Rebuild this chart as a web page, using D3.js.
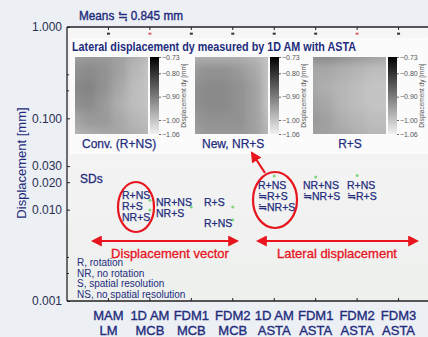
<!DOCTYPE html>
<html>
<head>
<meta charset="utf-8">
<script src="https://cdn.jsdelivr.net/npm/d3@7/dist/d3.min.js"></script>
<style>
  html, body { margin: 0; padding: 0; background: #eceff4; }
  svg { display: block; }
  text { font-family: "Liberation Sans", Arial, sans-serif; }
</style>
</head>
<body>
<svg id="chart" width="428" height="337"></svg>
<script>
// ---- data ----
const categories = [["MAM", "LM"], ["1D AM", "MCB"], ["FDM1", "MCB"], ["FDM2", "MCB"],
                    ["1D AM", "ASTA"], ["FDM1", "ASTA"], ["FDM2", "ASTA"], ["FDM3", "ASTA"]];
const meanValues = [0.845, 0.845, 0.845, 0.845, 0.845, 0.845, 0.845, 0.845];
const meanHighlighted = [false, true, false, false, false, false, true, false];
const yTickValues = [1.0, 0.1, 0.03, 0.02, 0.01, 0.001];
const yMinorTicks = [0.3, 0.2, 0.003, 0.002];

// standard deviations (category index, value)
const sdCategory = [1, 1, 2, 3, 3, 4, 5, 6];
const sdValues = [0.0127, 0.0099, 0.0107, 0.0107, 0.0077, 0.0233, 0.0228, 0.0236];

// lateral displacement dy maps [mm], rows top to bottom
const mapConv = [
  [-0.95, -0.94, -0.94, -0.95, -0.97, -0.99],
  [-0.93, -0.92, -0.93, -0.95, -0.98, -1.00],
  [-0.92, -0.91, -0.93, -0.96, -0.99, -1.00],
  [-0.93, -0.92, -0.94, -0.97, -0.99, -1.00],
  [-0.96, -0.94, -0.94, -0.96, -0.98, -0.99],
  [-0.98, -0.97, -0.96, -0.96, -0.97, -0.98]
];
const mapNew = [
  [-0.97, -0.97, -0.97, -0.97, -0.98, -1.00],
  [-0.94, -0.93, -0.93, -0.94, -0.96, -1.00],
  [-0.93, -0.92, -0.92, -0.93, -0.95, -1.00],
  [-0.93, -0.92, -0.92, -0.93, -0.95, -1.00],
  [-0.94, -0.93, -0.93, -0.93, -0.95, -0.99],
  [-0.95, -0.94, -0.94, -0.94, -0.95, -0.98]
];
const mapRS = [
  [-0.93, -0.92, -0.93, -0.94, -0.95, -0.96],
  [-0.96, -0.96, -0.97, -0.98, -0.99, -0.99],
  [-0.96, -0.97, -0.98, -0.99, -1.00, -1.00],
  [-0.95, -0.96, -0.98, -0.99, -1.00, -1.00],
  [-0.94, -0.95, -0.97, -0.98, -0.99, -0.99],
  [-0.95, -0.95, -0.96, -0.97, -0.98, -0.98]
];
const mapCaptions = ["Conv. (R+NS)", "New, NR+S", "R+S"];
const colorTicks = [-0.73, -0.80, -0.90, -1.00, -1.06];

const legendLines = ["R, rotation", "NR, no rotation", "S, spatial resolution", "NS, no spatial resolution"];

// ---- layout ----
const svg = d3.select("#chart");
const navy = "#232c7c";
const red = "#e8141e";
const plot = { left: 67, top: 27, right: 440, bottom: 301 };

const x = d3.scalePoint().domain(d3.range(categories.length))
  .range([plot.left, plot.right]).padding(1);
const y = d3.scaleLog().domain([0.001, 1]).range([plot.bottom, plot.top]);

const defs = svg.append("defs");
const bgGrad = defs.append("linearGradient").attr("id", "plotBg")
  .attr("x1", 0).attr("y1", 0).attr("x2", 0).attr("y2", 1);
bgGrad.append("stop").attr("offset", 0).attr("stop-color", "#f6f6f6");
bgGrad.append("stop").attr("offset", 1).attr("stop-color", "#eef0ee");

// page background and plot area
svg.append("rect").attr("width", 428).attr("height", 337).attr("fill", "#eceff4");
svg.append("rect").attr("x", plot.left).attr("y", plot.top)
  .attr("width", plot.right - plot.left).attr("height", plot.bottom - plot.top)
  .attr("fill", "url(#plotBg)");

// inset panel with the dy maps
svg.append("rect").attr("x", 70).attr("y", 38).attr("width", 360).attr("height", 116)
  .attr("fill", "#fbfbfb");

svg.append("text").attr("x", 72).attr("y", 51)
  .attr("font-size", 12).attr("font-weight", "bold").attr("fill", navy)
  .attr("textLength", 284).attr("lengthAdjust", "spacingAndGlyphs")
  .text("Lateral displacement dy measured by 1D AM with ASTA");

const color = d3.scaleLinear().domain([-1.06, -0.73]).range(["#f0f0f0", "#000000"])
  .interpolate(d3.interpolateRgb);

defs.append("filter").attr("id", "smooth")
  .attr("x", "-20%").attr("y", "-20%").attr("width", "140%").attr("height", "140%")
  .append("feGaussianBlur").attr("stdDeviation", 4);

const maps = [mapConv, mapNew, mapRS];
const mapX = [75, 195, 313];
const mapTop = 57, mapW = 73, mapH = 77;
const cScale = d3.scaleLinear().domain([-0.73, -1.06]).range([mapTop, mapTop + mapH]);

maps.forEach((grid, k) => {
  const mx = mapX[k];
  const cp = defs.append("clipPath").attr("id", "clipMap" + k);
  cp.append("rect").attr("x", mx).attr("y", mapTop).attr("width", mapW).attr("height", mapH);

  const cols = d3.scaleBand().domain(d3.range(grid[0].length)).range([mx - 10, mx + mapW + 10]);
  const rows = d3.scaleBand().domain(d3.range(grid.length)).range([mapTop - 10, mapTop + mapH + 10]);
  const outer = svg.append("g").attr("clip-path", `url(#clipMap${k})`);
  const inner = outer.append("g").attr("filter", "url(#smooth)");
  grid.forEach((row, r) => {
    inner.selectAll(null).data(row).enter().append("rect")
      .attr("x", (d, c) => cols(c)).attr("y", rows(r))
      .attr("width", cols.bandwidth() + 0.5).attr("height", rows.bandwidth() + 0.5)
      .attr("fill", d => color(d));
  });

  // colour bar
  const cbx = mx + mapW + 2, cbw = 9;
  const gid = "cb" + k;
  const g = defs.append("linearGradient").attr("id", gid)
    .attr("x1", 0).attr("y1", 0).attr("x2", 0).attr("y2", 1);
  d3.range(0, 1.0001, 0.1).forEach(t => {
    g.append("stop").attr("offset", t).attr("stop-color", color(-0.73 - t * 0.33));
  });
  svg.append("rect").attr("x", cbx).attr("y", mapTop).attr("width", cbw).attr("height", mapH)
    .attr("fill", `url(#${gid})`);
  const cAxis = svg.append("g").attr("transform", `translate(${cbx + cbw},0)`)
    .call(d3.axisRight(cScale).tickValues(colorTicks).tickSize(2).tickFormat(d => {
      const s = d3.format(".2f")(d);
      return s.replace("-", "\u2212");
    }));
  cAxis.select(".domain").remove();
  cAxis.selectAll("line").attr("stroke", "#666");
  cAxis.selectAll("text").attr("font-size", 7).attr("fill", "#555").attr("x", 3)
    .attr("font-family", "'Liberation Sans', Arial, sans-serif");
  svg.append("text")
    .attr("transform", `translate(${cbx + cbw + 27},${mapTop + mapH / 2}) rotate(-90)`)
    .attr("text-anchor", "middle").attr("font-size", 6.5).attr("fill", "#555")
    .text("Displacement dy [mm]");

  svg.append("text").attr("x", k === 2 ? mx + 37 : mx + 7).attr("y", 148)
    .attr("text-anchor", k === 2 ? "middle" : "start")
    .attr("font-size", 12).attr("fill", navy)
    .attr("stroke", navy).attr("stroke-width", 0.25).text(mapCaptions[k]);
});

// ---- axes ----
const yAxis = svg.append("g").attr("transform", `translate(${plot.left},0)`)
  .call(d3.axisLeft(y).tickValues(yTickValues).tickSize(-3).tickPadding(5)
    .tickFormat(d3.format(".3f")));
yAxis.select(".domain").remove();
yAxis.selectAll("text").attr("font-size", 12).attr("fill", "#2a3050")
  .attr("font-family", "'Liberation Sans', Arial, sans-serif");
yAxis.selectAll("line").attr("stroke", "#222");
svg.append("g").selectAll("line").data(yMinorTicks).enter().append("line")
  .attr("x1", plot.left).attr("x2", plot.left + 2)
  .attr("y1", d => y(d)).attr("y2", d => y(d)).attr("stroke", "#222");

const frame = svg.append("g").attr("stroke", "#222").attr("stroke-width", 1.3);
frame.append("line").attr("x1", plot.left).attr("x2", plot.left)
  .attr("y1", plot.top).attr("y2", plot.bottom);
frame.append("line").attr("x1", plot.left).attr("x2", plot.right)
  .attr("y1", plot.top).attr("y2", plot.top);
frame.append("line").attr("x1", plot.left).attr("x2", plot.right)
  .attr("y1", plot.bottom).attr("y2", plot.bottom);

// category ticks on top and bottom
svg.append("g").selectAll("line").data(categories).enter().append("line")
  .attr("x1", (d, i) => x(i)).attr("x2", (d, i) => x(i))
  .attr("y1", plot.bottom).attr("y2", plot.bottom - 3).attr("stroke", "#222");
svg.append("g").selectAll("line").data(categories).enter().append("line")
  .attr("x1", (d, i) => x(i)).attr("x2", (d, i) => x(i))
  .attr("y1", plot.top).attr("y2", plot.top + 3).attr("stroke", "#222");

// category labels
const catLabels = svg.append("g");
categories.forEach((c, i) => {
  c.forEach((line, j) => {
    catLabels.append("text").attr("x", x(i)).attr("y", 320 + j * 15)
      .attr("text-anchor", "middle").attr("font-size", 13).attr("fill", navy)
      .attr("stroke", navy).attr("stroke-width", 0.35)
      .text(line);
  });
});

svg.append("text")
  .attr("transform", "translate(26,163) rotate(-90)")
  .attr("text-anchor", "middle").attr("font-size", 13).attr("fill", navy)
  .text("Displacement [mm]");

svg.append("text").attr("x", 79).attr("y", 20)
  .attr("font-size", 13).attr("fill", navy).attr("stroke", navy).attr("stroke-width", 0.4)
  .attr("textLength", 104).attr("lengthAdjust", "spacingAndGlyphs")
  .text("Means \u2252 0.845 mm");

// mean markers
svg.append("g").selectAll("rect").data(meanValues).enter().append("rect")
  .attr("x", (d, i) => x(i) - 1.5).attr("y", d => y(d) - 1)
  .attr("width", 3).attr("height", 2)
  .attr("fill", (d, i) => meanHighlighted[i] ? "#e0606a" : "#333");

// ---- SDs ----
svg.append("text").attr("x", 80).attr("y", 183)
  .attr("font-size", 12).attr("fill", navy)
  .attr("stroke", navy).attr("stroke-width", 0.3).text("SDs");

svg.append("g").selectAll("circle").data(sdValues).enter().append("circle")
  .attr("cx", (d, i) => x(sdCategory[i])).attr("cy", d => y(d))
  .attr("r", 1.5).attr("fill", "#7ed67e");

const sdText = svg.append("g").attr("font-size", 10.5).attr("fill", navy)
  .attr("stroke", navy).attr("stroke-width", 0.25);
const sdLabelBlocks = [
  { x: 122, y: 199, lines: ["R+NS", "R+S", "NR+S"] },
  { x: 156, y: 206, lines: ["NR+NS", "NR+S"] },
  { x: 204, y: 206, lines: ["R+S"] },
  { x: 204, y: 227, lines: ["R+NS"] },
  { x: 258, y: 189, lines: ["R+NS", "\u2252R+S", "\u2252NR+S"] },
  { x: 303, y: 189, lines: ["NR+NS", "\u2252NR+S"] },
  { x: 347, y: 189, lines: ["R+NS", "\u2252R+S"] }
];
sdLabelBlocks.forEach(b => {
  b.lines.forEach((l, j) => {
    sdText.append("text").attr("x", b.x).attr("y", b.y + j * 11).text(l);
  });
});

// highlight ellipses
const ann = svg.append("g").attr("fill", "none").attr("stroke", red).attr("stroke-width", 2.2);
ann.append("ellipse").attr("cx", 136).attr("cy", 207).attr("rx", 18).attr("ry", 25);
ann.append("ellipse").attr("cx", 275).attr("cy", 200).attr("rx", 22).attr("ry", 28);

// arrow markers
const mk = defs.append("marker").attr("id", "arrowHead")
  .attr("viewBox", "0 0 10 10").attr("refX", 8).attr("refY", 5)
  .attr("markerWidth", 5).attr("markerHeight", 5).attr("orient", "auto-start-reverse");
mk.append("path").attr("d", "M0,0 L10,5 L0,10 Z").attr("fill", red);

ann.append("line").attr("x1", 265).attr("y1", 173).attr("x2", 252).attr("y2", 153)
  .attr("marker-end", "url(#arrowHead)");
ann.append("line").attr("x1", 93).attr("y1", 241).attr("x2", 237).attr("y2", 241)
  .attr("marker-start", "url(#arrowHead)").attr("marker-end", "url(#arrowHead)");
ann.append("line").attr("x1", 258).attr("y1", 241).attr("x2", 417).attr("y2", 241)
  .attr("marker-start", "url(#arrowHead)").attr("marker-end", "url(#arrowHead)");

svg.append("text").attr("x", 170).attr("y", 258).attr("text-anchor", "middle")
  .attr("font-size", 13).attr("fill", red).attr("stroke", red).attr("stroke-width", 0.3)
  .text("Displacement vector");
svg.append("text").attr("x", 337).attr("y", 258).attr("text-anchor", "middle")
  .attr("font-size", 13).attr("fill", red).attr("stroke", red).attr("stroke-width", 0.3)
  .text("Lateral displacement");

// abbreviations
const leg = svg.append("g").attr("font-size", 10).attr("fill", navy);
legendLines.forEach((l, j) => {
  leg.append("text").attr("x", 77).attr("y", 266 + j * 10.5).text(l);
});
</script>
</body>
</html>
